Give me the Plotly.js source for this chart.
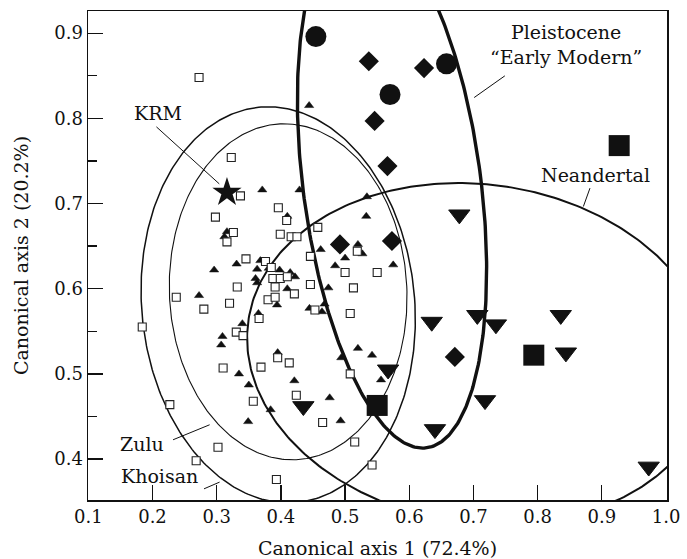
<!DOCTYPE html>
<html><head><meta charset="utf-8">
<script src="https://cdn.plot.ly/plotly-3.0.1.min.js"></script>
<style>html,body{margin:0;padding:0;background:#fff;}#chart{width:687px;height:559px;}</style>
</head><body><div id="chart"></div>
<script>
// ---- data ----
const openSquareX = [0.2725,0.3227,0.337,0.298,0.326,0.316,0.3456,0.376,0.332,0.380,0.237,0.320,0.280,0.366,0.184,0.3305,0.341,0.396,0.409,0.399,0.416,0.425,0.4575,0.446,0.519,0.500,0.550,0.3875,0.399,0.410,0.391,0.421,0.446,0.513,0.391,0.453,0.508,0.395,0.413,0.369,0.310,0.424,0.357,0.465,0.515,0.542,0.227,0.302,0.268,0.393,0.508,0.385];
const openSquareY = [0.848,0.754,0.709,0.684,0.666,0.655,0.635,0.632,0.602,0.587,0.590,0.583,0.576,0.565,0.555,0.549,0.545,0.695,0.680,0.664,0.661,0.661,0.672,0.638,0.644,0.619,0.619,0.612,0.612,0.614,0.602,0.594,0.605,0.601,0.590,0.575,0.571,0.519,0.513,0.508,0.507,0.475,0.468,0.443,0.420,0.393,0.464,0.414,0.398,0.376,0.500,0.625];

const smallTriX = [0.371,0.444,0.429,0.534,0.316,0.312,0.331,0.296,0.368,0.363,0.381,0.3605,0.363,0.2725,0.365,0.340,0.309,0.307,0.410,0.533,0.462,0.520,0.527,0.500,0.4845,0.575,0.398,0.4145,0.422,0.410,0.474,0.394,0.4445,0.464,0.468,0.520,0.395,0.3347,0.350,0.421,0.476,0.384,0.349,0.493,0.494,0.542,0.556];
const smallTriY = [0.716,0.815,0.716,0.708,0.667,0.661,0.629,0.622,0.633,0.623,0.624,0.612,0.607,0.592,0.571,0.559,0.544,0.534,0.685,0.685,0.646,0.652,0.641,0.636,0.627,0.628,0.622,0.619,0.614,0.600,0.601,0.581,0.577,0.573,0.582,0.530,0.525,0.500,0.487,0.492,0.472,0.458,0.444,0.445,0.519,0.522,0.493];

const circleX = [0.4545,0.570,0.658];
const circleY = [0.896,0.828,0.864];

const diamondX = [0.537,0.623,0.546,0.566,0.573,0.492,0.671];
const diamondY = [0.867,0.859,0.797,0.744,0.656,0.652,0.520];

const downTriX = [0.678,0.635,0.706,0.735,0.836,0.844,0.567,0.718,0.640,0.973,0.435];
const downTriY = [0.687,0.561,0.569,0.558,0.569,0.525,0.505,0.469,0.435,0.391,0.462];

const neandertalX = [0.927,0.794,0.550];
const neandertalY = [0.768,0.522,0.463];

const krmX = [0.316];
const krmY = [0.713];

// ellipses: centre + horizontal semi-chord + conjugate semi-diameter
const ellipseNames = ['Pleistocene "Early Modern"','Neandertal','Zulu','Khoisan'];
const ellipseCx = [0.5731,0.7097,0.4113,0.3958];
const ellipseCy = [0.7219,0.5236,0.5964,0.5811];
const ellipseUx = [0.1395,0.3608,0.1851,0.2131];
const ellipseVx = [0.0477,0.0333,0.0062,0.0156];
const ellipseVy = [-0.309,-0.2005,-0.1972,-0.2324];

// labels
const labelText = ['KRM','Pleistocene<br>\u201cEarly Modern\u201d','Neandertal','Zulu','Khoisan'];
const labelX = [0.2092,0.8437,0.8905,0.1829,0.2108];
const labelY = [0.8063,0.8871,0.7337,0.4180,0.3804];
const leaderX0 = [0.2061,0.7489,0.8815,0.232,0.2802];
const leaderY0 = [0.790,0.8499,0.7181,0.4227,0.3651];
const leaderX1 = [0.304,0.7011,0.8712,0.289,0.3045];
const leaderY1 = [0.7231,0.8244,0.6965,0.4403,0.373];

// ---- drawing ----
const FONT = 'DejaVu Serif, Liberation Serif, serif';
const INK = '#111';
const ellipseWidths = [3.4,2.0,1.1,1.5];
const traces = [];
for (let i = 0; i < ellipseNames.length; i++) {
  const ex = [], ey = [];
  const N = 360;
  for (let k = 0; k <= N; k++) {
    const t = 2*Math.PI*k/N;
    ex.push(ellipseCx[i] + ellipseUx[i]*Math.cos(t) + ellipseVx[i]*Math.sin(t));
    ey.push(ellipseCy[i] + ellipseVy[i]*Math.sin(t));
  }
  traces.push({x:ex,y:ey,mode:'lines',name:ellipseNames[i],line:{color:INK,width:ellipseWidths[i]},hoverinfo:'skip'});
}
traces.push({x:smallTriX,y:smallTriY,mode:'markers',name:'triangles',
  marker:{symbol:'triangle-up',size:8,color:INK,line:{color:INK,width:0.5}}});
traces.push({x:openSquareX,y:openSquareY,mode:'markers',name:'squares',
  marker:{symbol:'square',size:8,color:'#fff',line:{color:'#222',width:1.1}}});
traces.push({x:circleX,y:circleY,mode:'markers',name:'circles',
  marker:{symbol:'circle',size:21,color:INK,line:{width:0}}});
traces.push({x:diamondX,y:diamondY,mode:'markers',name:'diamonds',
  marker:{symbol:'diamond',size:15.5,color:INK,line:{width:0}}});
traces.push({x:downTriX,y:downTriY,mode:'markers',name:'down triangles',
  marker:{symbol:'triangle-down',size:18.5,color:INK,line:{color:INK,width:1}}});
traces.push({x:neandertalX,y:neandertalY,mode:'markers',name:'Neandertal',
  marker:{symbol:'square',size:21,color:INK,line:{width:0}}});
traces.push({x:krmX,y:krmY,mode:'markers',name:'KRM',
  marker:{symbol:'star',size:22,color:INK,line:{width:0}}});

const annotations = labelText.map((t,i)=>({x:labelX[i],y:labelY[i],xref:'x',yref:'y',text:t,showarrow:false,
  font:{family:FONT,size:19,color:INK},xanchor:'center',yanchor:'middle'}));
const shapes = labelText.map((t,i)=>({type:'line',xref:'x',yref:'y',x0:leaderX0[i],y0:leaderY0[i],x1:leaderX1[i],y1:leaderY1[i],
  line:{color:INK,width:1}}));

const axisCommon = {ticks:'inside',ticklen:15,tickwidth:1.3,tickcolor:INK,showline:true,linewidth:1.5,linecolor:INK,
  mirror:true,showgrid:false,zeroline:false,tickfont:{family:FONT,size:18,color:INK}};
const layout = {
  width:687,height:559,margin:{l:88,r:20,t:11,b:59,pad:0},
  paper_bgcolor:'#fff',plot_bgcolor:'#fff',showlegend:false,
  xaxis:Object.assign({},axisCommon,{range:[0.0995,1.0015],tick0:0.1,dtick:0.1,tickformat:'.1f',
    title:{text:'Canonical axis 1 (72.4%)',font:{family:FONT,size:19,color:INK},standoff:15}}),
  yaxis:Object.assign({},axisCommon,{range:[0.352,0.926],tick0:0,dtick:0.1,tickformat:'.1f',
    minor:{ticks:'inside',ticklen:9,dtick:0.05,tick0:0,tickcolor:INK,tickwidth:1.3,showgrid:false},
    title:{text:'Canonical axis 2 (20.2%)',font:{family:FONT,size:19,color:INK},standoff:20}}),
  annotations:annotations,shapes:shapes
};
Plotly.newPlot('chart',traces,layout,{staticPlot:true,displayModeBar:false});
</script></body></html>
